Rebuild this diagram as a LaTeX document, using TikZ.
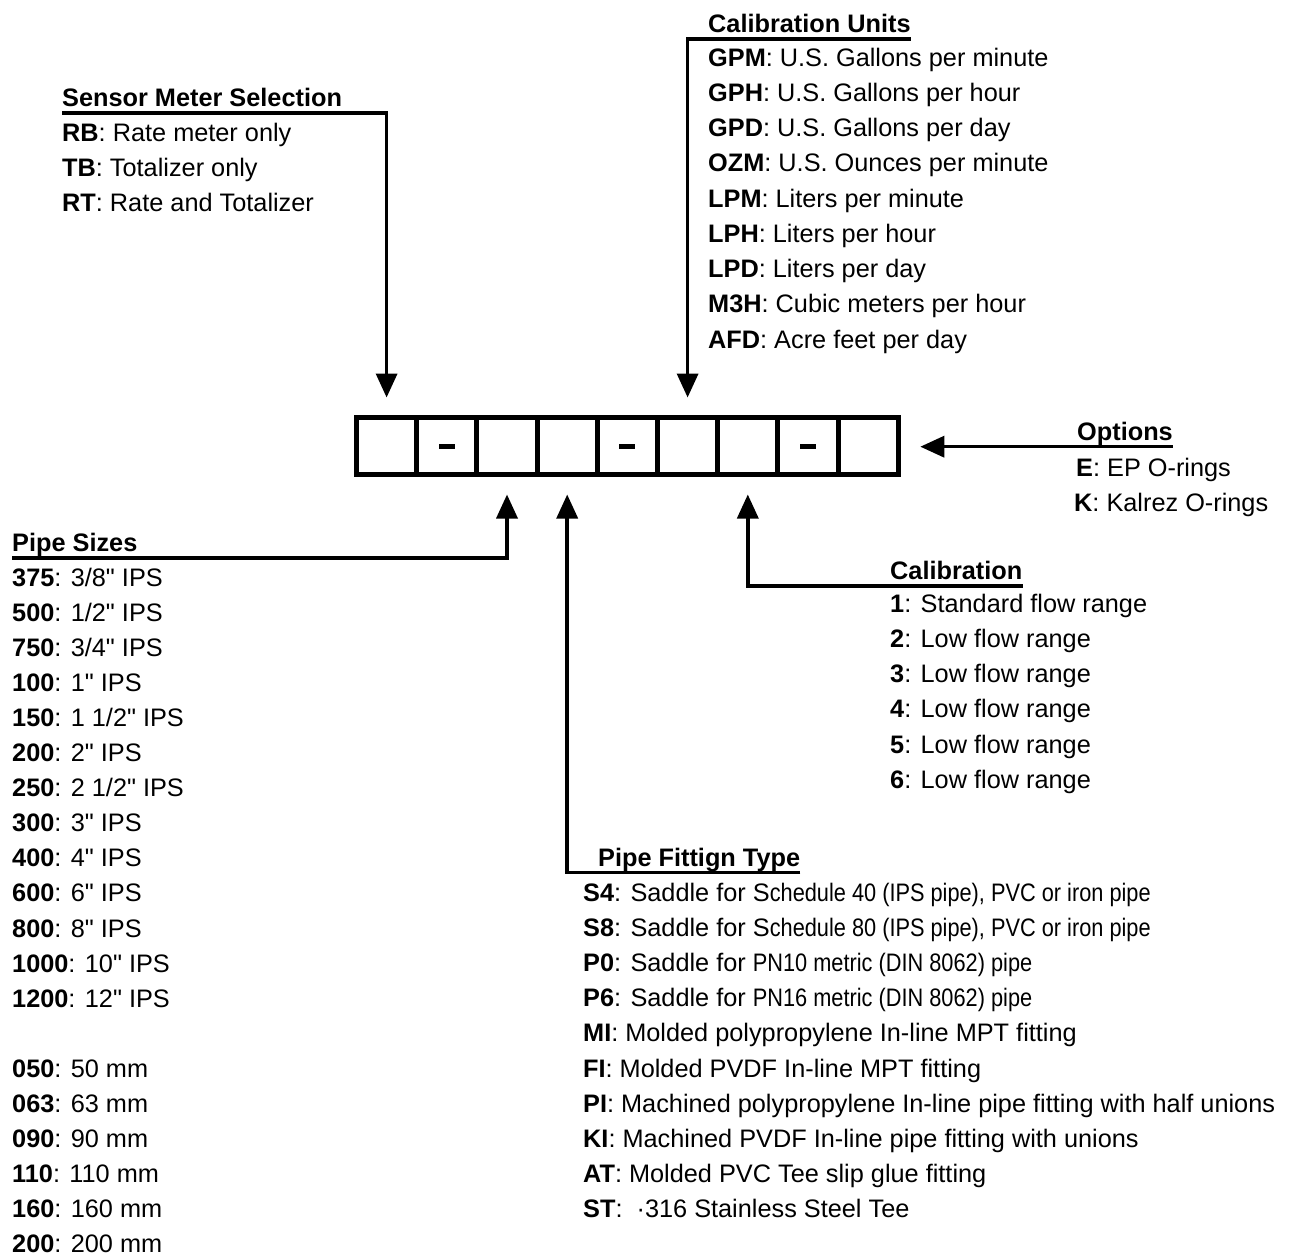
\documentclass[tikz,border=0pt]{standalone}
\usepackage{fontspec}
\setmainfont{Liberation Sans}[Ligatures=TeXOff]
\newfontfamily\narrowfont[FakeStretch=0.86,Ligatures=TeXOff]{Liberation Sans}
\usetikzlibrary{arrows.meta}

\newcommand\lblfont{\fontsize{25.3}{35.2}\selectfont}

\tikzset{
  cell/.style={draw, line width=5pt, minimum width=60.2pt, minimum height=57pt, inner sep=0pt},
  heading/.style={anchor=base west, inner sep=0pt, text depth=6.5pt, font=\lblfont\bfseries},
  item/.style={anchor=base west, inner sep=0pt, font=\lblfont},
  conn/.style={line width=3.5pt, -{Triangle[length=24pt,width=21pt]}, shorten >=17.5pt},
}

\begin{document}
\begin{tikzpicture}[x=1pt, y=-1pt]
  \useasboundingbox (0,0) rectangle (1301,1258);
  % code boxes
  \foreach \i in {1,...,9}
    \node[cell] (c\i) at ({356.5+(\i-0.5)*60.2}, 446) {};
  \foreach \i in {2,5,8}
    \fill (c\i) +(-8,-2.5) rectangle +(8,2.5);

  % Sensor meter selection
  \node[heading] (hsensor) at (62, 106.5) {Sensor Meter Selection};
  \foreach [count=\k] \code/\desc in {RB/Rate meter only, TB/Totalizer only, RT/Rate and Totalizer}
    \node[item] (sensor\k) at (62, {141+(\k-1)*35.2}) {\textbf{\code}: \desc};

  % Calibration units
  \node[heading] (hunits) at (708, 32.5) {Calibration Units};
  \foreach [count=\k] \code/\desc in {GPM/U.S. Gallons per minute, GPH/U.S. Gallons per hour,
      GPD/U.S. Gallons per day, OZM/U.S. Ounces per minute, LPM/Liters per minute,
      LPH/Liters per hour, LPD/Liters per day, M3H/Cubic meters per hour, AFD/Acre feet per day}
    \node[item] (units\k) at (708, {66+(\k-1)*35.25}) {\textbf{\code}: \desc};

  % Options
  \node[heading] (hoptions) at (1077, 440) {Options};
  \node[item] (opt1) at (1076, 476) {\textbf{E}: EP O-rings};
  \node[item] (opt2) at (1074, 511) {\textbf{K}: Kalrez O-rings};

  % Pipe sizes
  \node[heading] (hpipe) at (12, 551.5) {Pipe Sizes};
  \foreach [count=\k] \code/\desc in {375/{3/8" IPS}, 500/{1/2" IPS}, 750/{3/4" IPS}, 100/{1" IPS},
      150/{1 1/2" IPS}, 200/{2" IPS}, 250/{2 1/2" IPS}, 300/{3" IPS}, 400/{4" IPS},
      600/{6" IPS}, 800/{8" IPS}, 1000/{10" IPS}, 1200/{12" IPS}}
    \node[item] (pipe\k) at (12, {586+(\k-1)*35.1}) {\textbf{\code}: \desc};
  \foreach [count=\k] \code/\desc in {050/50 mm, 063/63 mm, 090/90 mm, 110/110 mm, 160/160 mm, 200/200 mm}
    \node[item] (metric\k) at (12, {586+(\k+13)*35.1}) {\textbf{\code}: \desc};

  % Calibration
  \node[heading] (hcal) at (890, 579.5) {Calibration};
  \foreach [count=\k] \code/\desc in {1/Standard flow range, 2/Low flow range, 3/Low flow range,
      4/Low flow range, 5/Low flow range, 6/Low flow range}
    \node[item] (cal\k) at (890, {612+(\k-1)*35.3}) {\textbf{\code}: \desc};

  % Pipe fitting type
  \node[heading] (hfit) at (598, 866) {Pipe Fittign Type};
  \foreach [count=\k] \code/\desc in {
      S4/{Saddle for S{\narrowfont chedule 40 (IPS pipe), PVC or iron pipe}},
      S8/{Saddle for S{\narrowfont chedule 80 (IPS pipe), PVC or iron pipe}},
      P0/{Saddle for {\narrowfont PN10 metric (DIN 8062) pipe}},
      P6/{Saddle for {\narrowfont PN16 metric (DIN 8062) pipe}},
      MI/Molded polypropylene In-line MPT fitting,
      FI/Molded PVDF In-line MPT fitting,
      PI/Machined polypropylene In-line pipe fitting with half unions,
      KI/Machined PVDF In-line pipe fitting with unions,
      AT/Molded PVC Tee slip glue fitting,
      ST/{\ ·316 Stainless Steel Tee}}
    \node[item] (fit\k) at (583, {901+(\k-1)*35.2}) {\textbf{\code}: \desc};

  % connectors
  \draw[conn] (hsensor.south west) -| (c1.north);
  \draw[conn] (hunits.south east) -| (c6.north);
  \draw[conn, shorten >=19.5pt] (hoptions.south east) -- (hoptions.south east -| c9.east);
  \draw[conn] (hpipe.south west) -| (c3.south);
  \draw[conn] (hfit.south east) -| (c4.south);
  \draw[conn] (hcal.south east) -| (c7.south);
\end{tikzpicture}
\end{document}
